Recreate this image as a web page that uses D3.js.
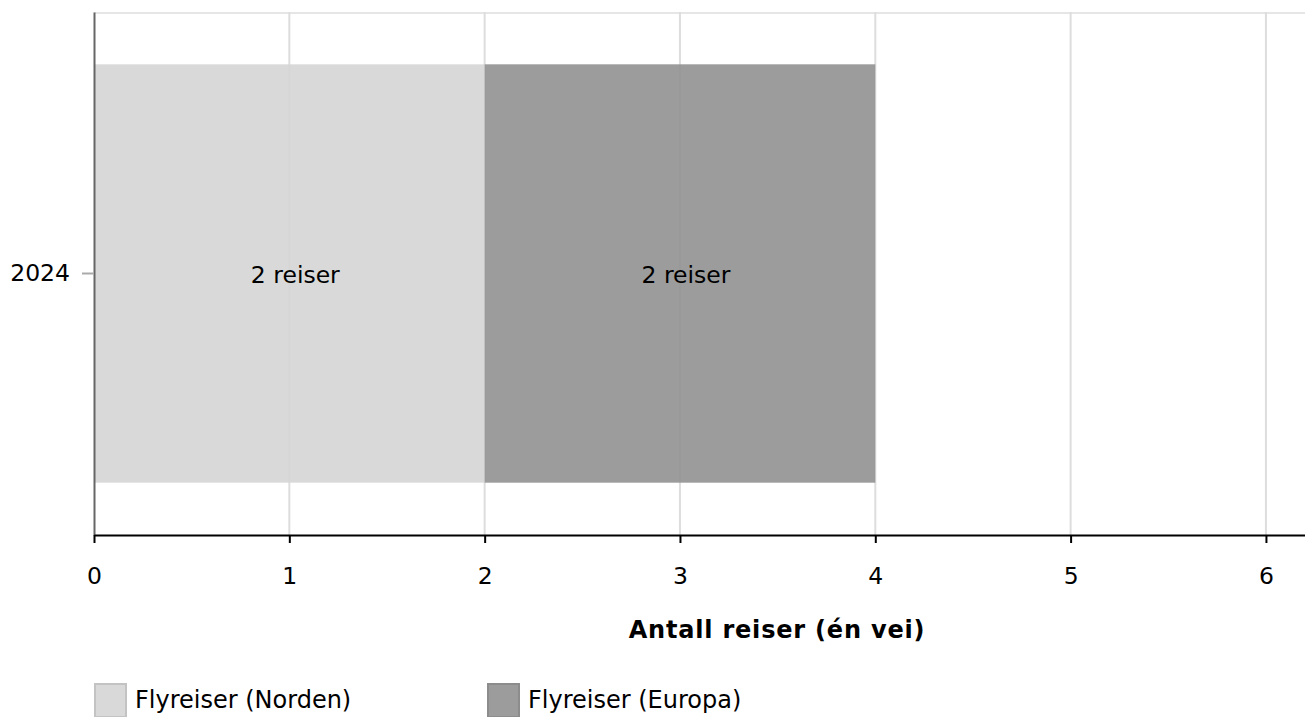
<!DOCTYPE html>
<html>
<head>
<meta charset="utf-8">
<script src="https://cdn.jsdelivr.net/npm/d3@7"></script>
<style>
  body { margin: 0; background: #fff; }
  text { font-family: "DejaVu Sans", Verdana, sans-serif; }
</style>
</head>
<body>
<div id="graph"></div>
<script>
// Data
const years = ["2024"];
const seriesNames = ["Flyreiser (Norden)", "Flyreiser (Europa)"];
const norden = [2];
const europa = [2];
const xTicks = [0, 1, 2, 3, 4, 5, 6];

const colors = ["#d5d5d5", "#919191"];
const legendColors = ["#d9d9d9", "#9c9c9c"];

const w = 1305, h = 717;
const margin = { top: 12, right: 0, bottom: 182, left: 94 };
const innerWidth = w - margin.left - margin.right;
const innerHeight = h - margin.top - margin.bottom;

const svg = d3.select("#graph")
    .append("svg")
    .attr("width", w)
    .attr("height", h);

const g = svg.append("g")
    .attr("transform", `translate(${margin.left},${margin.top})`);

const xScale = d3.scaleLinear()
    .domain([0, 6.2])
    .range([0, innerWidth]);

const yScale = d3.scaleBand()
    .domain(years)
    .range([0, innerHeight])
    .paddingInner(0.2)
    .paddingOuter(0.1);

// top border line
g.append("line")
    .attr("x1", 0).attr("x2", innerWidth)
    .attr("y1", 1).attr("y2", 1)
    .attr("stroke", "#e6e6e6")
    .attr("stroke-width", 2);

// grid lines
g.selectAll(".grid")
    .data(xTicks.filter(d => d > 0))
    .enter()
    .append("line")
    .attr("class", "grid")
    .attr("x1", d => xScale(d)).attr("x2", d => xScale(d))
    .attr("y1", 0).attr("y2", innerHeight)
    .attr("stroke", "#dddddd")
    .attr("stroke-width", 2);

// stacked data
const rows = years.map((y, i) => ({ year: y, norden: norden[i], europa: europa[i] }));
const stack = d3.stack().keys(["norden", "europa"])(rows);

const layers = g.selectAll(".layer")
    .data(stack)
    .enter()
    .append("g")
    .attr("class", "layer")
    .attr("fill", (d, i) => colors[i])
    .attr("fill-opacity", 0.9);

layers.selectAll("rect")
    .data(d => d)
    .enter()
    .append("rect")
    .attr("x", d => xScale(d[0]))
    .attr("y", d => yScale(d.data.year))
    .attr("width", d => xScale(d[1]) - xScale(d[0]))
    .attr("height", yScale.bandwidth());

// segment labels
stack.forEach(layer => {
    g.selectAll(null)
        .data(layer)
        .enter()
        .append("text")
        .attr("x", d => (xScale(d[0]) + xScale(d[1])) / 2 + 6)
        .attr("y", d => yScale(d.data.year) + yScale.bandwidth() / 2)
        .attr("dy", "0.4em")
        .attr("text-anchor", "middle")
        .style("font-size", "23.5px")
        .attr("fill", "#000")
        .text(d => (d[1] - d[0]) + " reiser");
});

// y axis
const yAxisG = g.append("g")
    .call(d3.axisLeft(yScale).tickSize(12).tickSizeOuter(0).tickPadding(12));
yAxisG.select(".domain").attr("stroke", "#666").attr("stroke-width", 2);
yAxisG.selectAll(".tick line").attr("stroke", "#aaa").attr("stroke-width", 2);
yAxisG.selectAll(".tick text")
    .style("font-size", "23.5px")
    .style("font-family", "DejaVu Sans")
    .attr("fill", "#000");

// x axis
const xAxisG = g.append("g")
    .attr("transform", `translate(0,${innerHeight})`)
    .call(d3.axisBottom(xScale).tickValues(xTicks).tickFormat(d3.format("d"))
        .tickSize(8).tickSizeOuter(0).tickPadding(24));
xAxisG.select(".domain").attr("stroke", "#000").attr("stroke-width", 2);
xAxisG.selectAll(".tick line").attr("stroke", "#000").attr("stroke-width", 2);
xAxisG.selectAll(".tick text")
    .style("font-size", "23.5px")
    .style("font-family", "DejaVu Sans")
    .attr("fill", "#000");

// axis title
svg.append("text")
    .attr("x", 777)
    .attr("y", 638)
    .attr("text-anchor", "middle")
    .style("font-size", "24px")
    .style("font-weight", "bold")
    .style("letter-spacing", "0.8px")
    .text("Antall reiser (én vei)");

// legend
const legendX = [94, 487];
const legend = svg.selectAll(".legend")
    .data(seriesNames)
    .enter()
    .append("g")
    .attr("class", "legend")
    .attr("transform", (d, i) => `translate(${legendX[i]},683)`);

legend.append("rect")
    .attr("x", 1).attr("y", 1)
    .attr("width", 31).attr("height", 33)
    .attr("fill", (d, i) => legendColors[i])
    .attr("stroke", (d, i) => d3.color(legendColors[i]).darker(0.3))
    .attr("stroke-width", 2);

legend.append("text")
    .attr("x", 41)
    .attr("y", 25)
    .style("font-size", "24px")
    .text(d => d);
</script>
</body>
</html>
